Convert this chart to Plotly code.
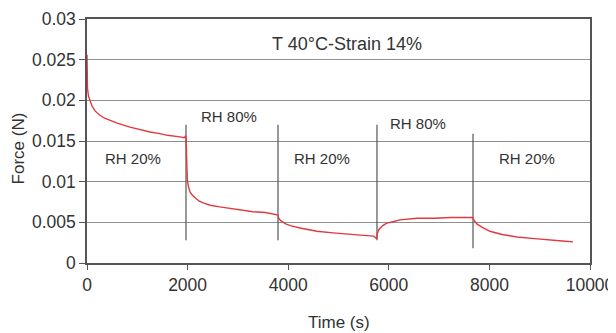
import plotly.graph_objects as go

# Force relaxation curve (time in s, force in N)
time_s = [0, 0, 10, 30, 60, 100, 160, 250, 350, 457, 600, 855, 1050, 1250, 1450, 1600, 1850, 1930, 1960,
          1970, 1985, 1995, 2020, 2050, 2100, 2150, 2230, 2310, 2450, 2640, 2900, 3100, 3300, 3550, 3780,
          3800, 3810, 3850, 3950, 4040, 4235, 4570, 4890, 5200, 5500, 5700, 5740, 5760,
          5770, 5800, 5880, 5960, 6100, 6220, 6560, 6900, 7220, 7500, 7670,
          7690, 7750, 7850, 8010, 8250, 8550, 8900, 9200, 9450, 9660]
force_n = [0.0256, 0.0225, 0.0215, 0.0205, 0.0199, 0.0193, 0.0187, 0.0182, 0.0178, 0.0175, 0.0172, 0.0167, 0.0164, 0.0161, 0.0159, 0.0157, 0.0155, 0.0154, 0.0156,
           0.0155, 0.0120, 0.0102, 0.0093, 0.0087, 0.0083, 0.0080, 0.0076, 0.0074, 0.0071, 0.0069, 0.0067, 0.0065, 0.0063, 0.0062, 0.0060,
           0.0059, 0.0055, 0.0052, 0.0048, 0.0046, 0.0043, 0.0039, 0.0037, 0.0035, 0.0034, 0.0033, 0.0031, 0.0030,
           0.0036, 0.0041, 0.0046, 0.0049, 0.0051, 0.0053, 0.0055, 0.0055, 0.0056, 0.0056, 0.0056,
           0.0053, 0.0048, 0.0044, 0.0039, 0.0035, 0.0032, 0.0030, 0.0028, 0.0027, 0.0026]

# Humidity switch markers
switch_times = [1968, 3797, 5765, 7674]
switch_top = [0.0170, 0.0170, 0.0170, 0.0159]
switch_bottom = [0.0028, 0.0028, 0.0028, 0.0018]

# Phase labels
phase_labels = ["RH 20%", "RH 80%", "RH 20%", "RH 80%", "RH 20%"]
phase_x = [915, 2823, 4672, 6580, 8748]
phase_y = [0.0129, 0.0180, 0.0129, 0.0171, 0.0129]

title_text = "T 40°C-Strain 14%"
title_x = 5169
title_y = 0.0269

x_ticks = [0, 2000, 4000, 6000, 8000, 10000]
x_tick_text = ["0", "2000", "4000", "6000", "8000", "10000"]
y_ticks = [0, 0.005, 0.01, 0.015, 0.02, 0.025, 0.03]
y_tick_text = ["0", "0.005", "0.01", "0.015", "0.02", "0.025", "0.03"]

FONT = "Liberation Sans, Arial, sans-serif"
TXT = "#333333"

fig = go.Figure()

# vertical switch lines
vx, vy = [], []
for t, top, bot in zip(switch_times, switch_top, switch_bottom):
    vx += [t, t, None]
    vy += [top, bot, None]
fig.add_trace(go.Scatter(x=vx, y=vy, mode="lines",
                         line=dict(color="#555555", width=1.2),
                         hoverinfo="skip", showlegend=False))

fig.add_trace(go.Scatter(x=time_s, y=force_n, mode="lines",
                         line=dict(color="#e0393e", width=1.4),
                         showlegend=False))

for lab, x, y in zip(phase_labels, phase_x, phase_y):
    fig.add_annotation(x=x, y=y, text=lab, showarrow=False,
                       font=dict(family=FONT, size=15, color=TXT))

fig.add_annotation(x=title_x, y=title_y, text=title_text, showarrow=False,
                   font=dict(family=FONT, size=18, color=TXT))

# page body has an 8px default margin, so the figure starts at (8, 8)
fig.update_layout(
    width=608, height=325,
    margin=dict(l=79, r=26, t=11, b=70, autoexpand=False),
    paper_bgcolor="white", plot_bgcolor="white",
    font=dict(family=FONT, size=16, color=TXT),
)

fig.update_xaxes(range=[0, 10000], tickvals=x_ticks, ticktext=x_tick_text,
                 automargin=False,
                 showgrid=False, zeroline=False,
                 showline=True, linecolor="#555555", linewidth=1.5, mirror=True,
                 ticks="outside", ticklen=5, tickcolor="#555555",
                 tickfont=dict(family=FONT, size=17.5, color=TXT))
fig.update_yaxes(range=[0, 0.03], tickvals=y_ticks, ticktext=y_tick_text,
                 automargin=False,
                 showgrid=True, gridcolor="#8f8f8f", gridwidth=1, zeroline=False,
                 showline=True, linecolor="#555555", linewidth=1.5, mirror=True,
                 ticks="outside", ticklen=6, tickcolor="#555555",
                 tickfont=dict(family=FONT, size=17.5, color=TXT))

fig.add_annotation(xref="paper", yref="paper", x=0.5, y=-0.242, yanchor="middle",
                   text="Time (s)", showarrow=False,
                   font=dict(family=FONT, size=17, color=TXT))
fig.add_annotation(xref="paper", yref="paper", x=-0.137, y=0.47, xanchor="center",
                   yanchor="middle", text="Force (N)", showarrow=False, textangle=-90,
                   font=dict(family=FONT, size=17, color=TXT))

fig.write_html("out.html")
